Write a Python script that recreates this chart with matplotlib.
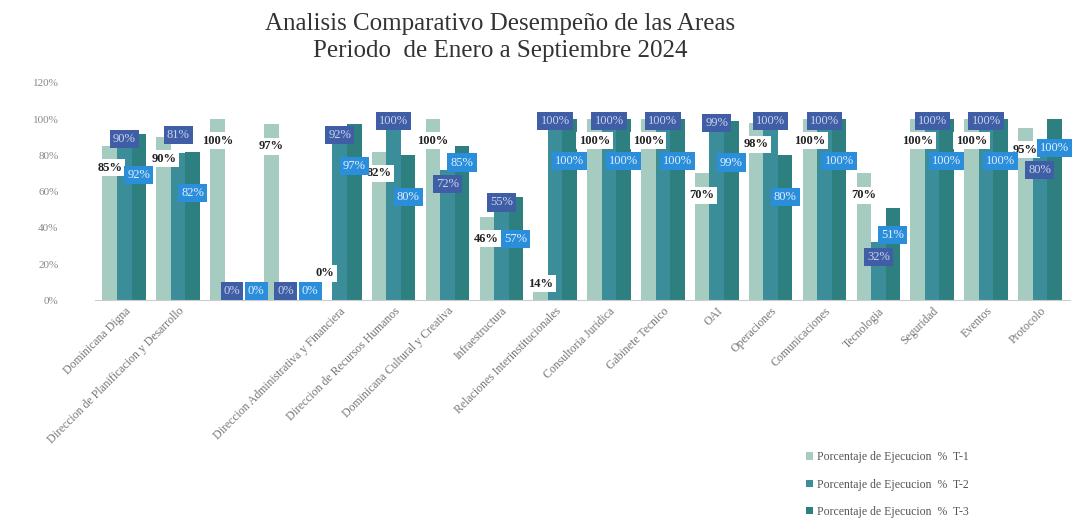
import numpy as np
import matplotlib.pyplot as plt

# Areas (two groups have no visible name in the original)
areas = ["Dominicana Digna", "Direccion de Planificacion y Desarrollo", "", "",
         "Direccion Administrativa y Financiera", "Direccion de Recursos Humanos",
         "Dominicana Cultural y Creativa", "Infraestructura",
         "Relaciones Interinstitucionales", "Consultoria Juridica",
         "Gabinete Tecnico", "OAI", "Operaciones", "Comunicaciones",
         "Tecnologia", "Seguridad", "Eventos", "Protocolo"]

# Porcentaje de ejecucion por trimestre
t1 = [85, 90, 100, 97, 0, 82, 100, 46, 14, 100, 100, 70, 98, 100, 70, 100, 100, 95]
t2 = [90, 81, 0, 0, 92, 100, 72, 55, 100, 100, 100, 99, 100, 100, 32, 100, 100, 80]
t3 = [92, 82, 0, 0, 97, 80, 85, 57, 100, 100, 100, 99, 80, 100, 51, 100, 100, 100]

series_names = ["Porcentaje de Ejecucion  %  T-1",
                "Porcentaje de Ejecucion  %  T-2",
                "Porcentaje de Ejecucion  %  T-3"]

bar_colors = ["#a6ccc2", "#3b8d9a", "#2e8080"]
serif = "Liberation Serif"

fig = plt.figure(figsize=(10.76, 5.24), dpi=100)
ax = fig.add_axes([0.088, 0.427, 0.906, 0.415])

x = np.arange(len(areas))
w = 0.27
for i, (vals, col, name) in enumerate(zip([t1, t2, t3], bar_colors, series_names)):
    ax.bar(x + (i - 1) * w, vals, width=w, color=col, label=name, zorder=2)


def label_levels(a, b, c):
    # rough imitation of how the callouts were spread out to dodge each other
    y1 = max(a - 12, 9) if a > 0 else 15
    if a > b > 0 and a - b < 10:
        y2 = a + 1
    elif a > b > 0:
        y2 = b - 8
    else:
        y2 = max(b - 1, 5)
    y3 = max(c - 23, 5)
    if c > 0 and abs(y3 - y2) < 11:
        y3 = y2 + 12
    return y1, y2, y3


for j in range(len(areas)):
    y1, y2, y3 = label_levels(t1[j], t2[j], t3[j])
    x3 = x[j] + w if t3[j] > 0 else x[j] + 0.45
    ax.text(x[j] - w, y1, f"{t1[j]}%", ha="center", va="center",
            family=serif, fontsize=9, fontweight="bold", color="#222222", zorder=4,
            bbox=dict(boxstyle="square,pad=0.2", fc="white", ec="none"))
    ax.text(x[j], y2, f"{t2[j]}%", ha="center", va="center",
            family=serif, fontsize=9, color="#c9d3ee", zorder=5,
            bbox=dict(boxstyle="square,pad=0.25", fc="#3f5ea5", ec="none"))
    ax.text(x3, y3, f"{t3[j]}%", ha="center", va="center",
            family=serif, fontsize=9, color="#e0efff", zorder=6,
            bbox=dict(boxstyle="square,pad=0.25", fc="#2b8edb", ec="none"))

ax.set_xlim(-0.55, len(areas) - 0.45)
ax.set_ylim(0, 120)
ax.set_yticks(range(0, 121, 20))
ax.set_yticklabels([f"{v}%" for v in range(0, 121, 20)], family=serif,
                   fontsize=8, color="#888888")
ax.set_xticks(x)
ax.set_xticklabels(areas, rotation=45, ha="right", rotation_mode="anchor",
                   family=serif, fontsize=8.5, color="#777777")
ax.tick_params(axis="both", length=0)
ax.tick_params(axis="y", pad=26)
for s in ["top", "right", "left"]:
    ax.spines[s].set_visible(False)
ax.spines["bottom"].set_color("#cccccc")

fig.text(0.465, 0.975, "Analisis Comparativo Desempeño de las Areas\n"
         "Periodo  de Enero a Septiembre 2024", ha="center", va="top",
         family=serif, fontsize=18, color="#333333", linespacing=1.3)

fig.legend(loc="upper left", bbox_to_anchor=(0.745, 0.148), frameon=False,
           prop={"family": serif, "size": 8.5}, labelcolor="#555555",
           handlelength=0.6, handleheight=0.6, handletextpad=0.3,
           labelspacing=1.3, borderaxespad=0)

fig.savefig("out.png", dpi=100)
